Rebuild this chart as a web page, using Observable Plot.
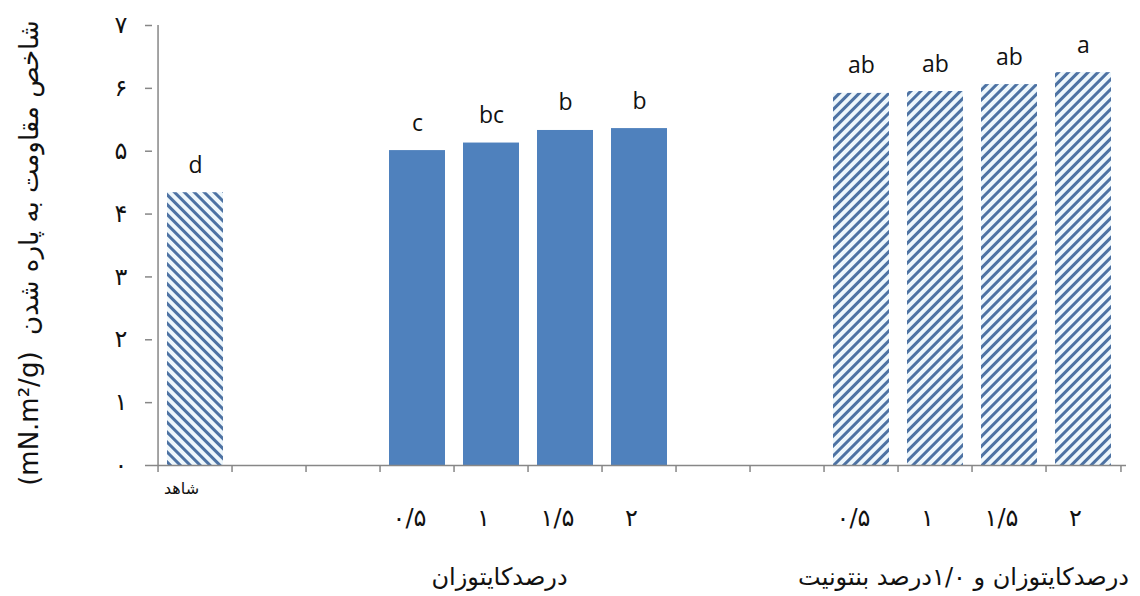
<!DOCTYPE html>
<html><head><meta charset="utf-8">
<script src="https://cdn.jsdelivr.net/npm/d3@7"></script>
<script src="https://cdn.jsdelivr.net/npm/@observablehq/plot@0.6"></script>
<style>body{margin:0;background:#fff} svg{display:block}</style>
</head><body><div id="chart"></div>
<script>
// x slots (13 band slots, with empty gaps)
const slots = ["control","gap1","gap2","c0.5","c1","c1.5","c2","gap3","gap4","b0.5","b1","b1.5","b2"];
// bars
const barKeys = ["control","c0.5","c1","c1.5","c2","b0.5","b1","b1.5","b2"];
const barSeries = ["control","chitosan","chitosan","chitosan","chitosan","bentonite","bentonite","bentonite","bentonite"];
const barValues = [4.34, 5.01, 5.13, 5.33, 5.36, 5.92, 5.95, 6.06, 6.25];
const barLetters = ["d","c","bc","b","b","ab","ab","ab","a"];
const tickLabels = ["شاهد","۰/۵","۱","۱/۵","۲","۰/۵","۱","۱/۵","۲"];
const yTicks = [0,1,2,3,4,5,6,7];
const yTickLabels = ["۰","۱","۲","۳","۴","۵","۶","۷"];
const groupKeys = ["c1","b1"];
const groupLabels = ["درصدکایتوزان", "\u202Bدرصدکایتوزان و ۱/۰درصد بنتونیت\u202C"];
const yLabel = "(mN.m²/g)  شاخص مقاومت به پاره شدن";

const bars = barKeys.map((k,i)=>({key:k, series:barSeries[i], value:barValues[i], letter:barLetters[i], label:tickLabels[i]}));
const groups = groupKeys.map((k,i)=>({key:k, label:groupLabels[i]}));

const W = 1140, H = 596, mL = 152, mR = 14, mT = 25, mB = 131;
const step = (W - mL - mR) / slots.length;
const axisColor = "#878787";
const persian = "DejaVu Sans, sans-serif";

const plot = Plot.plot({
  width: W, height: H,
  marginLeft: mL, marginRight: mR, marginTop: mT, marginBottom: mB,
  style: {background: "#fff", overflow: "visible"},
  x: {type: "band", domain: slots, paddingInner: 0.25, paddingOuter: 0.125, axis: null, label: null},
  y: {domain: [0, 7], axis: null, label: null},
  marks: [
    Plot.barY(bars.filter(d => d.series === "control"), {x: "key", y: "value", fill: "url(#hatchBack)"}),
    Plot.barY(bars.filter(d => d.series === "chitosan"), {x: "key", y: "value", fill: "#4f81bd"}),
    Plot.barY(bars.filter(d => d.series === "bentonite"), {x: "key", y: "value", fill: "url(#hatchFwd)"}),
    // axes lines
    Plot.ruleY([0], {stroke: axisColor, strokeWidth: 1.5}),
    Plot.ruleX([slots[0]], {dx: -step/2, stroke: axisColor, strokeWidth: 1.5}),
    // y axis ticks and labels
    Plot.axisY(yTicks, {anchor: "left", label: null, tickSize: 7, tickPadding: 18, stroke: axisColor, strokeWidth: 1.5,
      tickFormat: (d) => yTickLabels[d], fontSize: 24, fontFamily: persian, fill: "#111"}),
    // x ticks at slot boundaries
    Plot.axisX(slots, {anchor: "bottom", label: null, tickSize: 7, tickFormat: () => "", dx: -step/2, stroke: axisColor, strokeWidth: 1.5}),
    Plot.axisX([slots[slots.length-1]], {anchor: "bottom", label: null, tickSize: 7, tickFormat: () => "", dx: step/2, stroke: axisColor, strokeWidth: 1.5}),
    // letters above bars
    Plot.text(bars, {x: "key", y: "value", text: "letter", dy: -20, lineAnchor: "bottom", fontSize: 23, fontFamily: "Open Sans, sans-serif", fill: "#111"}),
    // x tick labels
    Plot.text(bars.filter(d => d.series === "control"), {x: "key", text: "label", frameAnchor: "bottom", dy: 28, dx: -14, fontSize: 16, fontFamily: persian, fill: "#111"}),
    Plot.text(bars.filter(d => d.series !== "control"), {x: "key", text: "label", frameAnchor: "bottom", dy: 60, dx: -8, fontSize: 24, fontFamily: persian, fill: "#111"}),
    // group labels
    Plot.text(groups.slice(0,1), {x: "key", text: "label", frameAnchor: "bottom", dy: 119, dx: 8, fontSize: 24, fontFamily: persian, fill: "#111"}),
    Plot.text(groups.slice(1), {x: "key", text: "label", frameAnchor: "bottom", dy: 119, dx: 28, fontSize: 24, fontFamily: persian, fill: "#111"}),
  ]
});

const svg = d3.select(plot);
const defs = svg.insert("defs", ":first-child");
function hatch(id, angle) {
  const p = defs.append("pattern").attr("id", id).attr("patternUnits", "userSpaceOnUse")
    .attr("width", 7).attr("height", 7).attr("patternTransform", `rotate(${angle})`);
  p.append("rect").attr("width", 7).attr("height", 7).attr("fill", "#eef7fc");
  p.append("rect").attr("x", 0).attr("width", 3).attr("height", 7).attr("fill", "#4d72a3");
}
hatch("hatchBack", -45);
hatch("hatchFwd", 45);

// y label
svg.append("text")
  .attr("transform", `translate(30, 253) rotate(-90)`)
  .attr("text-anchor", "middle").attr("dominant-baseline", "middle")
  .attr("font-family", persian).attr("font-size", 26).attr("fill", "#111")
  .text(yLabel);

document.getElementById("chart").appendChild(plot);
</script>
</body></html>
